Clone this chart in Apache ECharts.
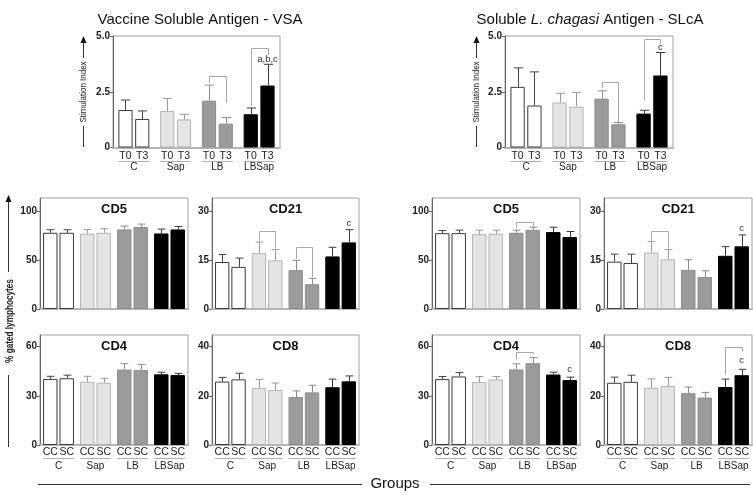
<!DOCTYPE html>
<html><head><meta charset="utf-8">
<script src="https://cdn.jsdelivr.net/npm/echarts@6/dist/echarts.min.js"></script>
<style>html,body{margin:0;padding:0;background:#fff}#c{width:753px;height:495px}</style>
</head><body><div id="c"></div>
<script>
const FONT = '"Liberation Sans", Arial, Helvetica, sans-serif';

// ---------- categories / labels ----------
const groups = ['C', 'Sap', 'LB', 'LBSap'];
const siLabels = ['T0', 'T3'];
const cellLabels = ['CC', 'SC'];

// ---------- Stimulation index ----------
const vsaSI_T0 = [1.68, 1.64, 2.10, 1.49];
const vsaSI_T0_sd = [0.45, 0.56, 0.70, 0.28];
const vsaSI_T3 = [1.28, 1.26, 1.07, 2.78];
const vsaSI_T3_sd = [0.36, 0.23, 0.27, 0.95];
const slcaSI_T0 = [2.72, 2.02, 2.19, 1.52];
const slcaSI_T0_sd = [0.85, 0.41, 0.35, 0.15];
const slcaSI_T3 = [1.88, 1.83, 1.04, 3.23];
const slcaSI_T3_sd = [1.51, 0.64, 0.08, 1.03];

// ---------- VSA lymphocytes ----------
const vsaCD5_CC = [77.8, 76.8, 81.2, 77.1];
const vsaCD5_CC_sd = [3.1, 4.4, 3.4, 4.5];
const vsaCD5_SC = [77.8, 77.8, 83.6, 81.2];
const vsaCD5_SC_sd = [3.1, 4.1, 3.1, 3.1];
const vsaCD21_CC = [14.4, 17.1, 11.9, 16.1];
const vsaCD21_CC_sd = [2.3, 3.4, 3.0, 2.8];
const vsaCD21_SC = [12.9, 14.9, 7.6, 20.4];
const vsaCD21_SC_sd = [2.7, 3.3, 1.8, 3.9];
const vsaCD4_CC = [40.3, 38.6, 46.0, 43.1];
const vsaCD4_CC_sd = [1.6, 3.3, 3.6, 1.3];
const vsaCD4_SC = [40.7, 38.0, 45.8, 42.7];
const vsaCD4_SC_sd = [1.9, 2.7, 3.4, 1.0];
const vsaCD8_CC = [25.8, 23.2, 19.5, 23.5];
const vsaCD8_CC_sd = [1.7, 3.5, 2.5, 3.3];
const vsaCD8_SC = [26.7, 22.4, 21.4, 25.9];
const vsaCD8_SC_sd = [2.5, 2.8, 2.9, 2.2];

// ---------- SLcA lymphocytes ----------
const slcaCD5_CC = [77.4, 76.4, 77.8, 78.5];
const slcaCD5_CC_sd = [2.7, 4.1, 2.7, 5.0];
const slcaCD5_SC = [77.4, 76.8, 80.8, 73.4];
const slcaCD5_SC_sd = [3.1, 3.7, 2.7, 5.7];
const slcaCD21_CC = [14.5, 17.3, 12.0, 16.3];
const slcaCD21_CC_sd = [2.3, 3.4, 3.1, 2.8];
const slcaCD21_SC = [14.1, 15.2, 9.8, 19.2];
const slcaCD21_SC_sd = [2.7, 3.0, 1.9, 3.5];
const slcaCD4_CC = [40.2, 38.4, 46.1, 43.0];
const slcaCD4_CC_sd = [1.6, 3.4, 3.4, 1.4];
const slcaCD4_SC = [41.8, 40.0, 49.9, 39.6];
const slcaCD4_SC_sd = [2.4, 1.8, 3.4, 1.8];
const slcaCD8_CC = [25.3, 23.3, 21.1, 23.6];
const slcaCD8_CC_sd = [2.3, 3.6, 2.5, 3.2];
const slcaCD8_SC = [25.7, 24.0, 19.3, 28.4];
const slcaCD8_SC_sd = [2.7, 3.5, 2.1, 2.4];

// ---------- significance brackets [group, left leg end, right leg end, top] ----------
const vsaSIBrackets = [[2, 2.9, 2.0, 3.2], [3, 1.85, 4.15, 4.46]];
const slcaSIBrackets = [[2, 2.65, 1.15, 2.93], [3, 2.1, 4.65, 4.86]];
const vsaCD21Brackets = [[1, 20.8, 18.6, 23.9], [2, 15.4, 9.8, 19.0]];
const slcaCD5Brackets = [[2, 82.5, 83.8, 88.7]];
const slcaCD21Brackets = [[1, 20.9, 18.5, 23.9]];
const slcaCD4Brackets = [[2, 52, 55.5, 56.9]];
const slcaCD8Brackets = [[3, 28.6, 38, 40]];

// ---------- significance letters [group, bar, y] + text ----------
const vsaSILetters = [[3, 1, 3.97]]; const vsaSILetterText = ['a,b,c'];
const slcaSILetters = [[3, 1, 4.5]]; const slcaSILetterText = ['c'];
const vsaCD21Letters = [[3, 1, 26.3]]; const vsaCD21LetterText = ['c'];
const slcaCD21Letters = [[3, 1, 24.6]]; const slcaCD21LetterText = ['c'];
const slcaCD4Letters = [[3, 1, 46]]; const slcaCD4LetterText = ['c'];
const slcaCD8Letters = [[3, 1, 34.3]]; const slcaCD8LetterText = ['c'];

// ---------- styles ----------
const fills = ['#ffffff', '#e4e4e4', '#9b9b9b', '#000000'];
const borders = ['#3a3a3a', '#b3b3b3', '#8c8c8c', '#000000'];
const errColors = ['#444444', '#9a9a9a', '#8a8a8a', '#3a3a3a'];
const BAR_SI = { bw: 0.34, gap: 0.18, cap: 0.11 };
const BAR_CELL = { bw: 0.39, gap: 0.14, cap: 0.105 };

const panels = [
  { a: vsaSI_T0, asd: vsaSI_T0_sd, b: vsaSI_T3, bsd: vsaSI_T3_sd, sub: siLabels, br: vsaSIBrackets, lt: vsaSILetters, ltt: vsaSILetterText,
    left: 113, top: 36, width: 167, height: 111.5, max: 5, interval: 2.5, dec: 1, title: '', xlab: true, bar: BAR_SI, subGap: 8.5, lineGap: 13, gMargin: 15 },
  { a: slcaSI_T0, asd: slcaSI_T0_sd, b: slcaSI_T3, bsd: slcaSI_T3_sd, sub: siLabels, br: slcaSIBrackets, lt: slcaSILetters, ltt: slcaSILetterText,
    left: 505, top: 36, width: 168, height: 111.5, max: 5, interval: 2.5, dec: 1, title: '', xlab: true, bar: BAR_SI, subGap: 8.5, lineGap: 13, gMargin: 15 },
  { a: vsaCD5_CC, asd: vsaCD5_CC_sd, b: vsaCD5_SC, bsd: vsaCD5_SC_sd, sub: cellLabels, br: [], lt: [], ltt: [],
    left: 40, top: 198, width: 148, height: 111, max: 113.3, interval: 50, dec: 0, title: 'CD5', xlab: false, bar: BAR_CELL },
  { a: vsaCD21_CC, asd: vsaCD21_CC_sd, b: vsaCD21_SC, bsd: vsaCD21_SC_sd, sub: cellLabels, br: vsaCD21Brackets, lt: vsaCD21Letters, ltt: vsaCD21LetterText,
    left: 212, top: 198, width: 147, height: 111, max: 34, interval: 15, dec: 0, title: 'CD21', xlab: false, bar: BAR_CELL },
  { a: slcaCD5_CC, asd: slcaCD5_CC_sd, b: slcaCD5_SC, bsd: slcaCD5_SC_sd, sub: cellLabels, br: slcaCD5Brackets, lt: [], ltt: [],
    left: 432, top: 198, width: 148, height: 111, max: 113.3, interval: 50, dec: 0, title: 'CD5', xlab: false, bar: BAR_CELL },
  { a: slcaCD21_CC, asd: slcaCD21_CC_sd, b: slcaCD21_SC, bsd: slcaCD21_SC_sd, sub: cellLabels, br: slcaCD21Brackets, lt: slcaCD21Letters, ltt: slcaCD21LetterText,
    left: 604, top: 198, width: 148, height: 111, max: 34, interval: 15, dec: 0, title: 'CD21', xlab: false, bar: BAR_CELL },
  { a: vsaCD4_CC, asd: vsaCD4_CC_sd, b: vsaCD4_SC, bsd: vsaCD4_SC_sd, sub: cellLabels, br: [], lt: [], ltt: [],
    left: 40, top: 335, width: 148, height: 110, max: 67.1, interval: 30, dec: 0, title: 'CD4', xlab: true, bar: BAR_CELL, subGap: 7, lineGap: 13, gMargin: 16 },
  { a: vsaCD8_CC, asd: vsaCD8_CC_sd, b: vsaCD8_SC, bsd: vsaCD8_SC_sd, sub: cellLabels, br: [], lt: [], ltt: [],
    left: 212, top: 335, width: 147, height: 110, max: 44.75, interval: 20, dec: 0, title: 'CD8', xlab: true, bar: BAR_CELL, subGap: 7, lineGap: 13, gMargin: 16 },
  { a: slcaCD4_CC, asd: slcaCD4_CC_sd, b: slcaCD4_SC, bsd: slcaCD4_SC_sd, sub: cellLabels, br: slcaCD4Brackets, lt: slcaCD4Letters, ltt: slcaCD4LetterText,
    left: 432, top: 335, width: 148, height: 110, max: 67.1, interval: 30, dec: 0, title: 'CD4', xlab: true, bar: BAR_CELL, subGap: 7, lineGap: 13, gMargin: 16 },
  { a: slcaCD8_CC, asd: slcaCD8_CC_sd, b: slcaCD8_SC, bsd: slcaCD8_SC_sd, sub: cellLabels, br: slcaCD8Brackets, lt: slcaCD8Letters, ltt: slcaCD8LetterText,
    left: 604, top: 335, width: 148, height: 110, max: 44.75, interval: 20, dec: 0, title: 'CD8', xlab: true, bar: BAR_CELL, subGap: 7, lineGap: 13, gMargin: 16 }
];

const grid = [], xAxis = [], yAxis = [], series = [], graphic = [];

function offsetOf(p, band) { return band * p.bar.bw * (1 + p.bar.gap) / 2; }

panels.forEach((p, i) => {
  grid.push({ left: p.left, top: p.top, width: p.width, height: p.height, show: true,
    borderColor: '#a0a0a0', borderWidth: 1, backgroundColor: 'transparent' });
  xAxis.push({ type: 'category', gridIndex: i, data: groups,
    axisLine: { show: true, lineStyle: { color: '#b5b5b5', width: 2 } },
    axisTick: { show: false },
    axisLabel: { show: p.xlab, interval: 0, margin: p.gMargin || 8, fontSize: 10, color: '#222', fontFamily: FONT } });
  const ticks = [];
  for (let v = 0; v <= p.max + 1e-9; v += p.interval) ticks.push(+v.toFixed(3));
  yAxis.push({ type: 'value', gridIndex: i, min: 0, max: p.max, interval: p.interval,
    axisLine: { show: true, lineStyle: { color: '#666' } },
    axisTick: { show: true, length: 3, lineStyle: { color: '#666' }, customValues: ticks },
    splitLine: { show: false },
    axisLabel: { customValues: ticks, margin: 3, fontSize: 10, fontWeight: 'bold', color: '#222', fontFamily: FONT,
      formatter: v => {
        const k = v / p.interval;
        if (Math.abs(k - Math.round(k)) > 1e-6) return '';
        return v === 0 ? '0' : v.toFixed(p.dec);
      } } });

  const mk = (vals) => vals.map((v, k) => ({ value: v,
    itemStyle: { color: fills[k], borderColor: borders[k], borderWidth: 1 } }));
  [p.a, p.b].forEach((vals) => {
    series.push({ type: 'bar', xAxisIndex: i, yAxisIndex: i, data: mk(vals),
      barWidth: (p.bar.bw * 100) + '%', barGap: (p.bar.gap * 100) + '%', z: 2, silent: true, animation: false });
  });

  // error bars
  const errData = [];
  for (let k = 0; k < groups.length; k++) {
    errData.push([k, p.a[k], p.asd[k], 0]);
    errData.push([k, p.b[k], p.bsd[k], 1]);
  }
  series.push({ type: 'custom', xAxisIndex: i, yAxisIndex: i, data: errData, encode: { x: 0, y: 1 }, z: 3, silent: true, animation: false,
    renderItem: (params, api) => {
      const k = api.value(0), v = api.value(1), sd = api.value(2), side = api.value(3);
      const band = api.size([1, 0])[0];
      const dx = (side === 0 ? -1 : 1) * offsetOf(p, band);
      const p0 = api.coord([k, v]), p1 = api.coord([k, v + sd]);
      const x = Math.round(p0[0] + dx) + 0.5, cap = band * p.bar.cap;
      const st = { stroke: errColors[k], lineWidth: 1 };
      return { type: 'group', children: [
        { type: 'line', shape: { x1: x, y1: p0[1], x2: x, y2: p1[1] }, style: st },
        { type: 'line', shape: { x1: x - cap, y1: p1[1], x2: x + cap, y2: p1[1] }, style: st }
      ] };
    } });

  // brackets
  if (p.br.length) series.push({ type: 'custom', xAxisIndex: i, yAxisIndex: i, data: p.br, encode: { x: 0, y: 3 }, z: 3, silent: true, animation: false,
    renderItem: (params, api) => {
      const k = api.value(0);
      const band = api.size([1, 0])[0];
      const off = offsetOf(p, band);
      const c = api.coord([k, api.value(3)]);
      const yl = api.coord([k, api.value(1)])[1], yr = api.coord([k, api.value(2)])[1];
      const xl = Math.round(c[0] - off) + 0.5, xr = Math.round(c[0] + off) + 0.5, yt = Math.round(c[1]) + 0.5;
      return { type: 'polyline', shape: { points: [[xl, yl], [xl, yt], [xr, yt], [xr, yr]] },
        style: { stroke: '#a8a8a8', lineWidth: 1, fill: null } };
    } });

  // letters
  if (p.lt.length) series.push({ type: 'custom', xAxisIndex: i, yAxisIndex: i, data: p.lt, encode: { x: 0, y: 2 }, z: 4, silent: true, animation: false, clip: false,
    renderItem: (params, api) => {
      const k = api.value(0), side = api.value(1);
      const band = api.size([1, 0])[0];
      const c = api.coord([k, api.value(2)]);
      const x = c[0] + (side === 0 ? -1 : 1) * offsetOf(p, band);
      return { type: 'text', x: x, y: c[1], style: { text: p.ltt[params.dataIndex], fontSize: 9.5, fontFamily: FONT, fill: '#333', align: 'center', verticalAlign: 'middle' } };
    } });

  // sub labels (T0/T3 or CC/SC) and separator lines
  if (p.xlab) series.push({ type: 'custom', xAxisIndex: i, yAxisIndex: i, data: groups.map((g, k) => [k, 0]), encode: { x: 0, y: 1 }, z: 4, silent: true, animation: false, clip: false,
    renderItem: (params, api) => {
      const k = api.value(0);
      const band = api.size([1, 0])[0];
      const off = offsetOf(p, band), half = off + band * p.bar.bw / 2;
      const c = api.coord([k, 0]);
      const ts = { fontSize: 10.5, fontFamily: FONT, fill: '#222', align: 'center', verticalAlign: 'middle' };
      const ly = Math.round(c[1] + p.lineGap) + 0.5;
      return { type: 'group', children: [
        { type: 'text', x: c[0] - off, y: c[1] + p.subGap, style: Object.assign({ text: p.sub[0] }, ts) },
        { type: 'text', x: c[0] + off, y: c[1] + p.subGap, style: Object.assign({ text: p.sub[1] }, ts) },
        { type: 'line', shape: { x1: c[0] - half, y1: ly, x2: c[0] + half, y2: ly }, style: { stroke: '#b0b0b0', lineWidth: 1 } }
      ] };
    } });

  if (p.title) graphic.push({ type: 'text', x: p.left + p.width / 2, y: p.top + 11, z: 10,
    style: { text: p.title, fontSize: 13, fontWeight: 'bold', fontFamily: FONT, fill: '#111', align: 'center', verticalAlign: 'middle' } });
});

// ---------- decorations ----------
function arrowAxis(x, tip, end1, start2, end2) {
  graphic.push({ type: 'polygon', shape: { points: [[x - 3, tip + 7], [x + 3, tip + 7], [x, tip]] }, style: { fill: '#111' } });
  graphic.push({ type: 'line', shape: { x1: x, y1: tip + 6, x2: x, y2: end1 }, style: { stroke: '#333', lineWidth: 1 } });
  graphic.push({ type: 'line', shape: { x1: x, y1: start2, x2: x, y2: end2 }, style: { stroke: '#333', lineWidth: 1 } });
}
arrowAxis(83.5, 36, 58, 126, 147);
arrowAxis(476.5, 36, 58, 126, 147);
arrowAxis(8.5, 195, 272, 375, 447);

const vtext = (t, x, y, size, weight, sx) => graphic.push({ type: 'text', x: x, y: y, rotation: Math.PI / 2, scaleX: sx,
  style: { text: t, fontSize: size, fontWeight: weight, fontFamily: FONT, fill: '#222', align: 'center', verticalAlign: 'middle' } });
vtext('Stimulation Index', 83.5, 92, 9.5, 'normal', 0.84);
vtext('Stimulation Index', 476.5, 92, 9.5, 'normal', 0.84);
vtext('% gated lymphocytes', 10, 321, 10, 'bold', 0.82);

graphic.push({ type: 'text', x: 200, y: 20, style: { text: 'Vaccine Soluble Antigen - VSA', fontSize: 15, fontFamily: FONT, fill: '#111', align: 'center', verticalAlign: 'middle' } });
graphic.push({ type: 'text', x: 590, y: 20, style: { text: '{n|Soluble }{i|L. chagasi}{n| Antigen - SLcA}', fontSize: 15, fontFamily: FONT, fill: '#111', align: 'center', verticalAlign: 'middle',
  rich: { n: { fontSize: 15, fontFamily: FONT, fill: '#111' }, i: { fontSize: 15, fontFamily: FONT, fontStyle: 'italic', fill: '#111' } } } });

graphic.push({ type: 'text', x: 395, y: 484, style: { text: 'Groups', fontSize: 15, fontFamily: FONT, fill: '#111', align: 'center', verticalAlign: 'middle' } });
graphic.push({ type: 'line', shape: { x1: 38, y1: 484.5, x2: 362, y2: 484.5 }, style: { stroke: '#333', lineWidth: 1 } });
graphic.push({ type: 'line', shape: { x1: 430, y1: 484.5, x2: 750, y2: 484.5 }, style: { stroke: '#333', lineWidth: 1 } });

const chart = echarts.init(document.getElementById('c'), null, { renderer: 'canvas' });
chart.setOption({ animation: false, backgroundColor: '#fff', grid, xAxis, yAxis, series, graphic });
</script></body></html>
